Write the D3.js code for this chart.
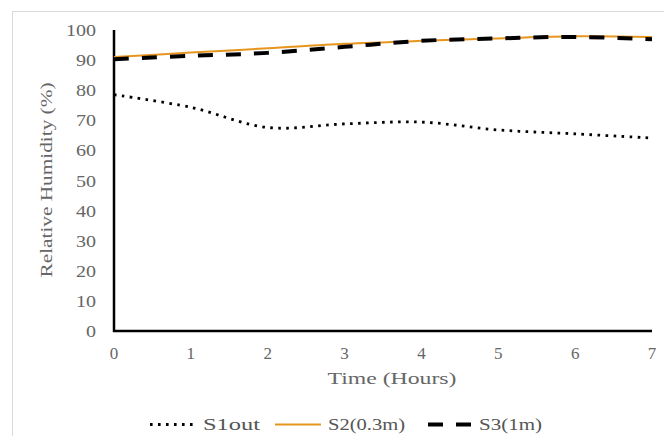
<!DOCTYPE html>
<html>
<head>
<meta charset="utf-8">
<script src="https://cdn.jsdelivr.net/npm/d3@7"></script>
<style>
  body { margin: 0; background: #fff; }
  text { font-family: "Liberation Serif", "Times New Roman", serif; }
</style>
</head>
<body>
<div id="chart"></div>
<script>
var hours = [0, 1, 2, 3, 4, 5, 6, 7];
var s1out = [78.5, 74.3, 67.6, 68.8, 69.4, 66.8, 65.5, 64.1];
var s2 = [91.0, 92.5, 93.9, 95.4, 96.4, 97.2, 97.9, 97.7];
var s3 = [90.3, 91.4, 92.4, 94.4, 96.4, 97.2, 97.7, 96.9];
var yTicks = [0, 10, 20, 30, 40, 50, 60, 70, 80, 90, 100];
var seriesNames = ["S1out", "S2(0.3m)", "S3(1m)"];

var W = 664, H = 436;
var svg = d3.select("#chart").append("svg").attr("width", W).attr("height", H);

// outer chart frame (runs off the right/bottom of the picture)
svg.append("rect")
  .attr("x", 12.5).attr("y", 11.5)
  .attr("width", 700).attr("height", 500)
  .attr("fill", "none").attr("stroke", "#d9d9d9").attr("stroke-width", 1);

var x = d3.scaleLinear().domain([0, 7]).range([114, 652]);
var y = d3.scaleLinear().domain([0, 100]).range([331, 30]);

// y tick labels
svg.append("g").selectAll("text").data(yTicks).enter().append("text")
  .attr("x", 96).attr("y", function (d) { return y(d) + 6; })
  .attr("text-anchor", "end").attr("fill", "#666").attr("font-size", 17)
  .text(function (d) { return d; })
  .each(function () { var w = this.getComputedTextLength(); d3.select(this).attr("textLength", w * 1.18).attr("lengthAdjust", "spacingAndGlyphs"); });

// x tick labels
svg.append("g").selectAll("text").data(hours).enter().append("text")
  .attr("x", function (d) { return x(d); }).attr("y", 359)
  .attr("text-anchor", "middle").attr("fill", "#666").attr("font-size", 17)
  .text(function (d) { return d; });

// axis titles
svg.append("text")
  .attr("transform", "translate(52,180) rotate(-90)")
  .attr("text-anchor", "middle").attr("fill", "#666").attr("font-size", 16)
  .attr("textLength", 195).attr("lengthAdjust", "spacingAndGlyphs")
  .text("Relative  Humidity  (%)");
svg.append("text")
  .attr("x", 392).attr("y", 384)
  .attr("text-anchor", "middle").attr("fill", "#666").attr("font-size", 16)
  .attr("textLength", 129).attr("lengthAdjust", "spacingAndGlyphs")
  .text("Time  (Hours)");

// axis lines
svg.append("line").attr("x1", x(0)).attr("x2", x(0)).attr("y1", y(100)).attr("y2", y(0) + 1)
  .attr("stroke", "#000").attr("stroke-width", 2.5);
svg.append("line").attr("x1", x(0) - 1).attr("x2", x(7)).attr("y1", y(0)).attr("y2", y(0))
  .attr("stroke", "#000").attr("stroke-width", 2.5);

var styles = [
  { data: s1out, color: "#000", width: 2.8, dash: "2.6,5.4" },
  { data: s2, color: "#E6951E", width: 2, dash: null },
  { data: s3, color: "#000", width: 4, dash: "15,13" }
];

var line = d3.line()
  .x(function (d, i) { return x(hours[i]); })
  .y(function (d) { return y(d); })
  .curve(d3.curveCatmullRom.alpha(0.5));

// draw orange first, then dashed and dotted on top
[1, 2, 0].forEach(function (k) {
  var s = styles[k];
  svg.append("path").datum(s.data)
    .attr("d", line).attr("fill", "none")
    .attr("stroke", s.color).attr("stroke-width", s.width)
    .attr("stroke-dasharray", s.dash);
});

// legend
var legX = [150, 275, 428];
var legTextLen = [57, 77, 63];
var leg = svg.append("g").selectAll("g").data(seriesNames).enter().append("g");
leg.append("line")
  .attr("x1", function (d, i) { return legX[i]; })
  .attr("x2", function (d, i) { return legX[i] + (i == 2 ? 44 : 46); })
  .attr("y1", 424.5).attr("y2", 424.5)
  .attr("stroke", function (d, i) { return styles[i].color; })
  .attr("stroke-width", function (d, i) { return styles[i].width; })
  .attr("stroke-dasharray", function (d, i) { return styles[i].dash; });
leg.append("text")
  .attr("x", function (d, i) { return legX[i] + (i == 0 ? 53 : i == 1 ? 53 : 51); })
  .attr("y", 430)
  .attr("fill", "#555").attr("font-size", 17)
  .attr("textLength", function (d, i) { return legTextLen[i]; })
  .attr("lengthAdjust", "spacingAndGlyphs")
  .text(function (d) { return d; });
</script>
</body>
</html>
